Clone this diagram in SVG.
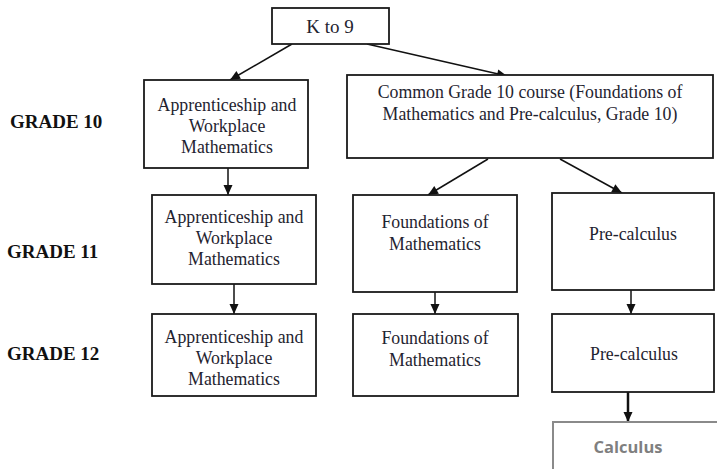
<svg xmlns="http://www.w3.org/2000/svg" width="717" height="469" viewBox="0 0 717 469">
<style>
.box{fill:#fff;stroke:#1a1a1a;stroke-width:1.8}
.t{font-family:"Liberation Serif","Times New Roman",serif;font-size:17.8px;fill:#1f2430;text-anchor:middle}
.g{font-family:"Liberation Serif","Times New Roman",serif;font-size:19px;font-weight:bold;fill:#111}
.c{stroke:#111;stroke-width:1.5;fill:none;marker-end:url(#ah)}
</style>
<defs>
<marker id="ah" markerUnits="userSpaceOnUse" markerWidth="12" markerHeight="12" viewBox="0 0 12 12" refX="11" refY="6" orient="auto">
<path d="M1,1.5 L11,6 L1,10.5 Z" fill="#111"/>
</marker>
</defs>
<g id="labels">
<text class="g" x="10" y="128">GRADE 10</text>
<text class="g" x="7" y="258">GRADE 11</text>
<text class="g" x="7" y="360">GRADE 12</text>
</g>
<g id="connectors">
<line class="c" x1="292" y1="44" x2="230" y2="80"/>
<line class="c" x1="367" y1="44" x2="507" y2="76"/>
<line class="c" x1="228" y1="168" x2="228" y2="195"/>
<line class="c" x1="488" y1="159" x2="428" y2="195"/>
<line class="c" x1="560" y1="159" x2="622" y2="193"/>
<line class="c" x1="234" y1="284" x2="234" y2="314"/>
<line class="c" x1="435" y1="292" x2="435" y2="314"/>
<line class="c" x1="631" y1="290" x2="631" y2="314"/>
<line class="c" style="stroke-width:2.5" x1="628" y1="392" x2="628" y2="422"/>
</g>
<g id="k9">
<rect class="box" x="272" y="8" width="117" height="36"/>
<text class="t" x="330" y="33" style="font-size:19px">K to 9</text>
</g>
<g id="aw10">
<rect class="box" x="144" y="80" width="164" height="88"/>
<text class="t" x="227" y="111">Apprenticeship and</text>
<text class="t" x="227" y="132">Workplace</text>
<text class="t" x="227" y="153">Mathematics</text>
</g>
<g id="common10">
<rect class="box" x="347" y="75" width="366" height="83"/>
<text class="t" x="530" y="98">Common Grade 10 course (Foundations of</text>
<text class="t" x="530" y="120">Mathematics and Pre-calculus, Grade 10)</text>
</g>
<g id="aw11">
<rect class="box" x="152" y="195" width="164" height="89"/>
<text class="t" x="234" y="223">Apprenticeship and</text>
<text class="t" x="234" y="244">Workplace</text>
<text class="t" x="234" y="265">Mathematics</text>
</g>
<g id="fm11">
<rect class="box" x="353" y="195" width="164" height="97"/>
<text class="t" x="435" y="228">Foundations of</text>
<text class="t" x="435" y="250">Mathematics</text>
</g>
<g id="pc11">
<rect class="box" x="552" y="193" width="162" height="97"/>
<text class="t" x="633" y="240">Pre-calculus</text>
</g>
<g id="aw12">
<rect class="box" x="152" y="314" width="164" height="82"/>
<text class="t" x="234" y="343">Apprenticeship and</text>
<text class="t" x="234" y="364">Workplace</text>
<text class="t" x="234" y="385">Mathematics</text>
</g>
<g id="fm12">
<rect class="box" x="353" y="314" width="165" height="82"/>
<text class="t" x="435" y="344">Foundations of</text>
<text class="t" x="435" y="366">Mathematics</text>
</g>
<g id="pc12">
<rect class="box" x="552" y="314" width="162" height="78"/>
<text class="t" x="634" y="360">Pre-calculus</text>
</g>
<g id="calc">
<rect x="553" y="422" width="170" height="60" fill="#fff" stroke="#8a8a8a" stroke-width="2"/>
<text x="628" y="453" text-anchor="middle" style="font-family:'Open Sans','Liberation Sans',sans-serif;font-weight:bold;font-size:16.5px;fill:#7f7f7f">Calculus</text>
</g>
</svg>
